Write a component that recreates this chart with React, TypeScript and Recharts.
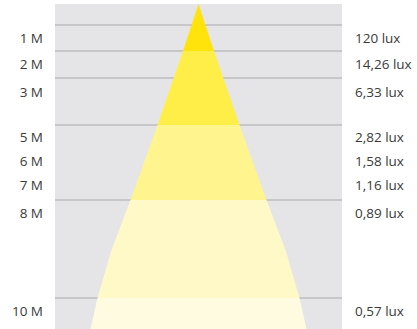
import React from "react";
import { ComposedChart, Area, XAxis, YAxis, CartesianGrid } from "recharts";

// depth measured in chart units from top of panel (0 = lamp)
const labelDepths = [34.3, 60.3, 88.7, 133.3, 157.3, 181.3, 209.3, 307];
const distanceLabels = ["1 M", "2 M", "3 M", "5 M", "6 M", "7 M", "8 M", "10 M"];
const luxLabels = ["120 lux", "14,26 lux", "6,33 lux", "2,82 lux", "1,58 lux", "1,16 lux", "0,89 lux", "0,57 lux"];
const gridDepths = [21, 47, 74, 121, 196, 294];

// beam profile: depth and half-width of the light cone
const beamDepths = [0, 47, 121, 196, 246, 294, 325];
const beamHalfWidths = [0, 15.5, 41, 68, 87, 101, 108];
const bandRanges = [
  [0, 47],
  [47, 121],
  [121, 196],
  [196, 294],
  [294, 325],
];
const bandColors = ["#FFE30A", "#FFEE48", "#FFF48E", "#FFF9C8", "#FEFBE0"];

const data = beamDepths.map((d, i) => {
  const row: Record<string, any> = { depth: d };
  bandRanges.forEach(([a, b], k) => {
    if (d >= a && d <= b) row["b" + k] = [-beamHalfWidths[i], beamHalfWidths[i]];
  });
  return row;
});

const font = "'Open Sans', sans-serif";

export default function App() {
  return (
    <div style={{ position: "absolute", left: 0, top: 0 }}>
      <ComposedChart
        width={417}
        height={329}
        data={data}
        layout="vertical"
        margin={{ top: 4, right: 0, bottom: 0, left: 0 }}
      >
        <XAxis type="number" domain={[-143.5, 143.5]} hide />
        <YAxis
          yAxisId="l"
          type="number"
          dataKey="depth"
          domain={[0, 325]}
          orientation="left"
          width={55}
          ticks={labelDepths}
          interval={0}
          tickFormatter={(v: number, i: number) => distanceLabels[i]}
          axisLine={false}
          tickLine={false}
          tickSize={0}
          tickMargin={12}
          tick={{ fill: "#3a3a3a", fontSize: 13.5, fontFamily: font }}
        />
        <YAxis
          yAxisId="r"
          type="number"
          dataKey="depth"
          domain={[0, 325]}
          orientation="right"
          width={75}
          ticks={labelDepths}
          interval={0}
          tickFormatter={(v: number, i: number) => luxLabels[i]}
          axisLine={false}
          tickLine={false}
          tickSize={0}
          tickMargin={13}
          tick={{ fill: "#3a3a3a", fontSize: 13.5, fontFamily: font, textAnchor: "start" }}
        />
        <CartesianGrid
          yAxisId="l"
          vertical={false}
          horizontalValues={gridDepths}
          fill="#E5E5E7"
          fillOpacity={1}
          stroke="#BDBDBF"
          strokeWidth={1.5}
          strokeDasharray=""
        />
        {bandColors.map((c, k) => (
          <Area
            key={k}
            yAxisId="l"
            dataKey={"b" + k}
            type="linear"
            fill={c}
            fillOpacity={1}
            stroke="none"
            isAnimationActive={false}
            connectNulls={false}
            dot={false}
            activeDot={false}
          />
        ))}
      </ComposedChart>
    </div>
  );
}
